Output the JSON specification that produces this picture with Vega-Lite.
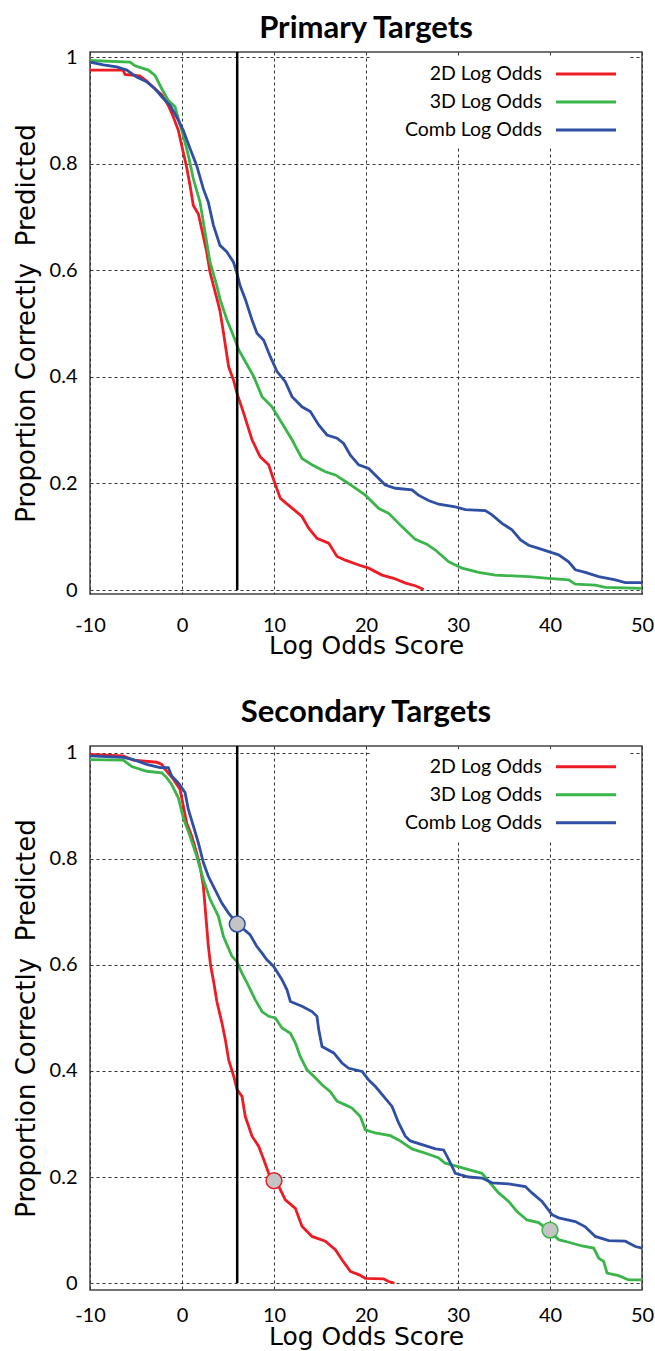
{
  "$schema": "https://vega.github.io/schema/vega-lite/v6.json",
  "background": "white",
  "padding": {"left": 12, "top": 12, "right": 0, "bottom": 0},
  "spacing": 36,
  "datasets": {
    "curves": [
      {"panel":1,"series":"2D Log Odds","score":-10,"proportion":0.976},{"panel":1,"series":"2D Log Odds","score":-6.4,"proportion":0.976},{"panel":1,"series":"2D Log Odds","score":-6.2,"proportion":0.968},{"panel":1,"series":"2D Log Odds","score":-4.6,"proportion":0.965},{"panel":1,"series":"2D Log Odds","score":-3.8,"proportion":0.955},{"panel":1,"series":"2D Log Odds","score":-2.9,"proportion":0.94},{"panel":1,"series":"2D Log Odds","score":-2.2,"proportion":0.93},{"panel":1,"series":"2D Log Odds","score":-1.5,"proportion":0.91},{"panel":1,"series":"2D Log Odds","score":-0.94,"proportion":0.888},{"panel":1,"series":"2D Log Odds","score":-0.4,"proportion":0.863},{"panel":1,"series":"2D Log Odds","score":0,"proportion":0.832},{"panel":1,"series":"2D Log Odds","score":0.5,"proportion":0.794},{"panel":1,"series":"2D Log Odds","score":0.87,"proportion":0.76},{"panel":1,"series":"2D Log Odds","score":1.23,"proportion":0.722},{"panel":1,"series":"2D Log Odds","score":1.78,"proportion":0.706},{"panel":1,"series":"2D Log Odds","score":2.14,"proportion":0.678},{"panel":1,"series":"2D Log Odds","score":2.68,"proportion":0.635},{"panel":1,"series":"2D Log Odds","score":3.04,"proportion":0.597},{"panel":1,"series":"2D Log Odds","score":3.59,"proportion":0.56},{"panel":1,"series":"2D Log Odds","score":3.9,"proportion":0.54},{"panel":1,"series":"2D Log Odds","score":4.15,"proportion":0.522},{"panel":1,"series":"2D Log Odds","score":4.5,"proportion":0.484},{"panel":1,"series":"2D Log Odds","score":5.07,"proportion":0.419},{"panel":1,"series":"2D Log Odds","score":5.6,"proportion":0.394},{"panel":1,"series":"2D Log Odds","score":5.98,"proportion":0.369},{"panel":1,"series":"2D Log Odds","score":6.7,"proportion":0.332},{"panel":1,"series":"2D Log Odds","score":7.61,"proportion":0.282},{"panel":1,"series":"2D Log Odds","score":8.5,"proportion":0.25},{"panel":1,"series":"2D Log Odds","score":9.42,"proportion":0.235},{"panel":1,"series":"2D Log Odds","score":9.96,"proportion":0.207},{"panel":1,"series":"2D Log Odds","score":10.69,"proportion":0.172},{"panel":1,"series":"2D Log Odds","score":11.8,"proportion":0.156},{"panel":1,"series":"2D Log Odds","score":13.04,"proportion":0.138},{"panel":1,"series":"2D Log Odds","score":13.77,"proportion":0.116},{"panel":1,"series":"2D Log Odds","score":14.67,"proportion":0.097},{"panel":1,"series":"2D Log Odds","score":15.94,"proportion":0.088},{"panel":1,"series":"2D Log Odds","score":16.85,"proportion":0.063},{"panel":1,"series":"2D Log Odds","score":17.75,"proportion":0.056},{"panel":1,"series":"2D Log Odds","score":19.2,"proportion":0.047},{"panel":1,"series":"2D Log Odds","score":20.29,"proportion":0.041},{"panel":1,"series":"2D Log Odds","score":21.74,"proportion":0.028},{"panel":1,"series":"2D Log Odds","score":23.0,"proportion":0.022},{"panel":1,"series":"2D Log Odds","score":24.3,"proportion":0.013},{"panel":1,"series":"2D Log Odds","score":25.36,"proportion":0.008},{"panel":1,"series":"2D Log Odds","score":26.27,"proportion":0.001},
      {"panel":1,"series":"3D Log Odds","score":-10,"proportion":0.994},{"panel":1,"series":"3D Log Odds","score":-5.65,"proportion":0.991},{"panel":1,"series":"3D Log Odds","score":-5.1,"proportion":0.984},{"panel":1,"series":"3D Log Odds","score":-3.66,"proportion":0.976},{"panel":1,"series":"3D Log Odds","score":-2.93,"proportion":0.966},{"panel":1,"series":"3D Log Odds","score":-2.2,"proportion":0.941},{"panel":1,"series":"3D Log Odds","score":-1.49,"proportion":0.919},{"panel":1,"series":"3D Log Odds","score":-0.76,"proportion":0.907},{"panel":1,"series":"3D Log Odds","score":-0.4,"proportion":0.885},{"panel":1,"series":"3D Log Odds","score":0.14,"proportion":0.853},{"panel":1,"series":"3D Log Odds","score":0.69,"proportion":0.816},{"panel":1,"series":"3D Log Odds","score":1.23,"proportion":0.772},{"panel":1,"series":"3D Log Odds","score":1.96,"proportion":0.728},{"panel":1,"series":"3D Log Odds","score":2.5,"proportion":0.672},{"panel":1,"series":"3D Log Odds","score":3.04,"proportion":0.616},{"panel":1,"series":"3D Log Odds","score":3.77,"proportion":0.572},{"panel":1,"series":"3D Log Odds","score":4.15,"proportion":0.545},{"panel":1,"series":"3D Log Odds","score":4.89,"proportion":0.507},{"panel":1,"series":"3D Log Odds","score":5.62,"proportion":0.476},{"panel":1,"series":"3D Log Odds","score":6.16,"proportion":0.451},{"panel":1,"series":"3D Log Odds","score":6.88,"proportion":0.429},{"panel":1,"series":"3D Log Odds","score":7.79,"proportion":0.401},{"panel":1,"series":"3D Log Odds","score":8.7,"proportion":0.363},{"panel":1,"series":"3D Log Odds","score":9.78,"proportion":0.344},{"panel":1,"series":"3D Log Odds","score":10.87,"proportion":0.313},{"panel":1,"series":"3D Log Odds","score":11.96,"proportion":0.282},{"panel":1,"series":"3D Log Odds","score":13.04,"proportion":0.247},{"panel":1,"series":"3D Log Odds","score":14.13,"proportion":0.235},{"panel":1,"series":"3D Log Odds","score":15.58,"proportion":0.222},{"panel":1,"series":"3D Log Odds","score":16.67,"proportion":0.216},{"panel":1,"series":"3D Log Odds","score":18.1,"proportion":0.2},{"panel":1,"series":"3D Log Odds","score":19.93,"proportion":0.178},{"panel":1,"series":"3D Log Odds","score":21.4,"proportion":0.153},{"panel":1,"series":"3D Log Odds","score":22.46,"proportion":0.144},{"panel":1,"series":"3D Log Odds","score":23.9,"proportion":0.119},{"panel":1,"series":"3D Log Odds","score":25.36,"proportion":0.095},{"panel":1,"series":"3D Log Odds","score":26.6,"proportion":0.086},{"panel":1,"series":"3D Log Odds","score":27.54,"proportion":0.075},{"panel":1,"series":"3D Log Odds","score":29.0,"proportion":0.053},{"panel":1,"series":"3D Log Odds","score":30.44,"proportion":0.041},{"panel":1,"series":"3D Log Odds","score":32.25,"proportion":0.033},{"panel":1,"series":"3D Log Odds","score":34.06,"proportion":0.028},{"panel":1,"series":"3D Log Odds","score":37.68,"proportion":0.025},{"panel":1,"series":"3D Log Odds","score":39.85,"proportion":0.022},{"panel":1,"series":"3D Log Odds","score":42.03,"proportion":0.019},{"panel":1,"series":"3D Log Odds","score":42.75,"proportion":0.011},{"panel":1,"series":"3D Log Odds","score":44.93,"proportion":0.009},{"panel":1,"series":"3D Log Odds","score":46.0,"proportion":0.005},{"panel":1,"series":"3D Log Odds","score":50,"proportion":0.003},
      {"panel":1,"series":"Comb Log Odds","score":-10,"proportion":0.991},{"panel":1,"series":"Comb Log Odds","score":-8.55,"proportion":0.986},{"panel":1,"series":"Comb Log Odds","score":-7.1,"proportion":0.982},{"panel":1,"series":"Comb Log Odds","score":-6.0,"proportion":0.976},{"panel":1,"series":"Comb Log Odds","score":-4.93,"proportion":0.963},{"panel":1,"series":"Comb Log Odds","score":-3.84,"proportion":0.954},{"panel":1,"series":"Comb Log Odds","score":-2.93,"proportion":0.941},{"panel":1,"series":"Comb Log Odds","score":-2.2,"proportion":0.926},{"panel":1,"series":"Comb Log Odds","score":-1.3,"proportion":0.91},{"panel":1,"series":"Comb Log Odds","score":-0.58,"proportion":0.888},{"panel":1,"series":"Comb Log Odds","score":0.14,"proportion":0.863},{"panel":1,"series":"Comb Log Odds","score":0.87,"proportion":0.829},{"panel":1,"series":"Comb Log Odds","score":1.59,"proportion":0.797},{"panel":1,"series":"Comb Log Odds","score":2.32,"proportion":0.753},{"panel":1,"series":"Comb Log Odds","score":2.86,"proportion":0.728},{"panel":1,"series":"Comb Log Odds","score":3.41,"proportion":0.685},{"panel":1,"series":"Comb Log Odds","score":4.13,"proportion":0.647},{"panel":1,"series":"Comb Log Odds","score":4.86,"proportion":0.635},{"panel":1,"series":"Comb Log Odds","score":5.58,"proportion":0.616},{"panel":1,"series":"Comb Log Odds","score":5.94,"proportion":0.597},{"panel":1,"series":"Comb Log Odds","score":6.3,"proportion":0.572},{"panel":1,"series":"Comb Log Odds","score":6.9,"proportion":0.545},{"panel":1,"series":"Comb Log Odds","score":7.61,"proportion":0.507},{"panel":1,"series":"Comb Log Odds","score":8.15,"proportion":0.482},{"panel":1,"series":"Comb Log Odds","score":8.88,"proportion":0.469},{"panel":1,"series":"Comb Log Odds","score":9.6,"proportion":0.438},{"panel":1,"series":"Comb Log Odds","score":10.33,"proportion":0.41},{"panel":1,"series":"Comb Log Odds","score":11.23,"proportion":0.391},{"panel":1,"series":"Comb Log Odds","score":11.96,"proportion":0.363},{"panel":1,"series":"Comb Log Odds","score":13.04,"proportion":0.344},{"panel":1,"series":"Comb Log Odds","score":13.95,"proportion":0.335},{"panel":1,"series":"Comb Log Odds","score":14.86,"proportion":0.31},{"panel":1,"series":"Comb Log Odds","score":15.76,"proportion":0.291},{"panel":1,"series":"Comb Log Odds","score":16.85,"proportion":0.285},{"panel":1,"series":"Comb Log Odds","score":17.57,"proportion":0.275},{"panel":1,"series":"Comb Log Odds","score":18.3,"proportion":0.253},{"panel":1,"series":"Comb Log Odds","score":19.2,"proportion":0.235},{"panel":1,"series":"Comb Log Odds","score":20.29,"proportion":0.228},{"panel":1,"series":"Comb Log Odds","score":21.0,"proportion":0.216},{"panel":1,"series":"Comb Log Odds","score":22.1,"proportion":0.197},{"panel":1,"series":"Comb Log Odds","score":23.19,"proportion":0.191},{"panel":1,"series":"Comb Log Odds","score":25.0,"proportion":0.188},{"panel":1,"series":"Comb Log Odds","score":25.7,"proportion":0.178},{"panel":1,"series":"Comb Log Odds","score":26.8,"proportion":0.168},{"panel":1,"series":"Comb Log Odds","score":27.9,"proportion":0.161},{"panel":1,"series":"Comb Log Odds","score":29.7,"proportion":0.156},{"panel":1,"series":"Comb Log Odds","score":30.8,"proportion":0.151},{"panel":1,"series":"Comb Log Odds","score":32.97,"proportion":0.149},{"panel":1,"series":"Comb Log Odds","score":33.7,"proportion":0.141},{"panel":1,"series":"Comb Log Odds","score":34.78,"proportion":0.125},{"panel":1,"series":"Comb Log Odds","score":35.87,"proportion":0.113},{"panel":1,"series":"Comb Log Odds","score":36.8,"proportion":0.094},{"panel":1,"series":"Comb Log Odds","score":37.68,"proportion":0.084},{"panel":1,"series":"Comb Log Odds","score":38.77,"proportion":0.078},{"panel":1,"series":"Comb Log Odds","score":39.85,"proportion":0.072},{"panel":1,"series":"Comb Log Odds","score":40.94,"proportion":0.066},{"panel":1,"series":"Comb Log Odds","score":42.03,"proportion":0.053},{"panel":1,"series":"Comb Log Odds","score":42.75,"proportion":0.038},{"panel":1,"series":"Comb Log Odds","score":43.84,"proportion":0.033},{"panel":1,"series":"Comb Log Odds","score":45.29,"proportion":0.025},{"panel":1,"series":"Comb Log Odds","score":47.1,"proportion":0.019},{"panel":1,"series":"Comb Log Odds","score":48.19,"proportion":0.014},{"panel":1,"series":"Comb Log Odds","score":50,"proportion":0.014},
      {"panel":2,"series":"2D Log Odds","score":-10,"proportion":0.997},{"panel":2,"series":"2D Log Odds","score":-6.4,"proportion":0.994},{"panel":2,"series":"2D Log Odds","score":-5.3,"proportion":0.986},{"panel":2,"series":"2D Log Odds","score":-2.75,"proportion":0.982},{"panel":2,"series":"2D Log Odds","score":-2.2,"proportion":0.978},{"panel":2,"series":"2D Log Odds","score":-1.85,"proportion":0.969},{"panel":2,"series":"2D Log Odds","score":-0.94,"proportion":0.95},{"panel":2,"series":"2D Log Odds","score":-0.22,"proportion":0.931},{"panel":2,"series":"2D Log Odds","score":0.14,"proportion":0.9},{"panel":2,"series":"2D Log Odds","score":0.5,"proportion":0.868},{"panel":2,"series":"2D Log Odds","score":1.05,"proportion":0.843},{"panel":2,"series":"2D Log Odds","score":1.59,"proportion":0.811},{"panel":2,"series":"2D Log Odds","score":1.96,"proportion":0.786},{"panel":2,"series":"2D Log Odds","score":2.32,"proportion":0.749},{"panel":2,"series":"2D Log Odds","score":2.5,"proportion":0.711},{"panel":2,"series":"2D Log Odds","score":2.86,"proportion":0.636},{"panel":2,"series":"2D Log Odds","score":3.1,"proportion":0.6},{"panel":2,"series":"2D Log Odds","score":3.44,"proportion":0.568},{"panel":2,"series":"2D Log Odds","score":3.8,"proportion":0.53},{"panel":2,"series":"2D Log Odds","score":4.35,"proportion":0.49},{"panel":2,"series":"2D Log Odds","score":4.71,"proportion":0.459},{"panel":2,"series":"2D Log Odds","score":5.07,"proportion":0.421},{"panel":2,"series":"2D Log Odds","score":5.62,"proportion":0.39},{"panel":2,"series":"2D Log Odds","score":5.98,"proportion":0.365},{"panel":2,"series":"2D Log Odds","score":6.52,"proportion":0.352},{"panel":2,"series":"2D Log Odds","score":6.88,"proportion":0.314},{"panel":2,"series":"2D Log Odds","score":7.61,"proportion":0.277},{"panel":2,"series":"2D Log Odds","score":8.33,"proportion":0.258},{"panel":2,"series":"2D Log Odds","score":8.88,"proportion":0.233},{"panel":2,"series":"2D Log Odds","score":9.42,"proportion":0.207},{"panel":2,"series":"2D Log Odds","score":10.33,"proportion":0.189},{"panel":2,"series":"2D Log Odds","score":11.23,"proportion":0.157},{"panel":2,"series":"2D Log Odds","score":12.32,"proportion":0.141},{"panel":2,"series":"2D Log Odds","score":13.04,"proportion":0.107},{"panel":2,"series":"2D Log Odds","score":14.13,"proportion":0.088},{"panel":2,"series":"2D Log Odds","score":15.58,"proportion":0.079},{"panel":2,"series":"2D Log Odds","score":16.67,"proportion":0.063},{"panel":2,"series":"2D Log Odds","score":17.39,"proportion":0.044},{"panel":2,"series":"2D Log Odds","score":18.3,"proportion":0.022},{"panel":2,"series":"2D Log Odds","score":19.2,"proportion":0.016},{"panel":2,"series":"2D Log Odds","score":19.93,"proportion":0.009},{"panel":2,"series":"2D Log Odds","score":21.9,"proportion":0.008},{"panel":2,"series":"2D Log Odds","score":22.46,"proportion":0.003},{"panel":2,"series":"2D Log Odds","score":23.1,"proportion":0.0},
      {"panel":2,"series":"3D Log Odds","score":-10,"proportion":0.987},{"panel":2,"series":"3D Log Odds","score":-6.38,"proportion":0.986},{"panel":2,"series":"3D Log Odds","score":-5.47,"proportion":0.974},{"panel":2,"series":"3D Log Odds","score":-3.84,"proportion":0.965},{"panel":2,"series":"3D Log Odds","score":-2.2,"proportion":0.962},{"panel":2,"series":"3D Log Odds","score":-1.67,"proportion":0.953},{"panel":2,"series":"3D Log Odds","score":-1.12,"proportion":0.94},{"panel":2,"series":"3D Log Odds","score":-0.4,"proportion":0.915},{"panel":2,"series":"3D Log Odds","score":0.14,"proportion":0.877},{"panel":2,"series":"3D Log Odds","score":0.87,"proportion":0.843},{"panel":2,"series":"3D Log Odds","score":1.59,"proportion":0.805},{"panel":2,"series":"3D Log Odds","score":2.32,"proportion":0.761},{"panel":2,"series":"3D Log Odds","score":3.04,"proportion":0.724},{"panel":2,"series":"3D Log Odds","score":3.95,"proportion":0.692},{"panel":2,"series":"3D Log Odds","score":4.5,"proportion":0.654},{"panel":2,"series":"3D Log Odds","score":5.4,"proportion":0.617},{"panel":2,"series":"3D Log Odds","score":6.0,"proportion":0.605},{"panel":2,"series":"3D Log Odds","score":6.5,"proportion":0.585},{"panel":2,"series":"3D Log Odds","score":7.07,"proportion":0.566},{"panel":2,"series":"3D Log Odds","score":7.97,"proportion":0.534},{"panel":2,"series":"3D Log Odds","score":8.7,"proportion":0.512},{"panel":2,"series":"3D Log Odds","score":9.42,"proportion":0.503},{"panel":2,"series":"3D Log Odds","score":10.14,"proportion":0.5},{"panel":2,"series":"3D Log Odds","score":10.87,"proportion":0.481},{"panel":2,"series":"3D Log Odds","score":11.78,"proportion":0.471},{"panel":2,"series":"3D Log Odds","score":12.32,"proportion":0.453},{"panel":2,"series":"3D Log Odds","score":12.86,"proportion":0.427},{"panel":2,"series":"3D Log Odds","score":13.59,"proportion":0.402},{"panel":2,"series":"3D Log Odds","score":14.49,"proportion":0.387},{"panel":2,"series":"3D Log Odds","score":15.22,"proportion":0.374},{"panel":2,"series":"3D Log Odds","score":16.12,"proportion":0.361},{"panel":2,"series":"3D Log Odds","score":16.85,"proportion":0.343},{"panel":2,"series":"3D Log Odds","score":17.75,"proportion":0.336},{"panel":2,"series":"3D Log Odds","score":18.48,"proportion":0.33},{"panel":2,"series":"3D Log Odds","score":19.38,"proportion":0.314},{"panel":2,"series":"3D Log Odds","score":19.93,"proportion":0.289},{"panel":2,"series":"3D Log Odds","score":21.0,"proportion":0.283},{"panel":2,"series":"3D Log Odds","score":22.64,"proportion":0.278},{"panel":2,"series":"3D Log Odds","score":23.55,"proportion":0.27},{"panel":2,"series":"3D Log Odds","score":25.0,"proportion":0.253},{"panel":2,"series":"3D Log Odds","score":26.81,"proportion":0.243},{"panel":2,"series":"3D Log Odds","score":27.9,"proportion":0.236},{"panel":2,"series":"3D Log Odds","score":28.6,"proportion":0.226},{"panel":2,"series":"3D Log Odds","score":29.71,"proportion":0.221},{"panel":2,"series":"3D Log Odds","score":31.16,"proportion":0.214},{"panel":2,"series":"3D Log Odds","score":32.61,"proportion":0.207},{"panel":2,"series":"3D Log Odds","score":33.33,"proportion":0.192},{"panel":2,"series":"3D Log Odds","score":34.42,"proportion":0.17},{"panel":2,"series":"3D Log Odds","score":35.51,"proportion":0.154},{"panel":2,"series":"3D Log Odds","score":36.41,"proportion":0.135},{"panel":2,"series":"3D Log Odds","score":37.5,"proportion":0.119},{"panel":2,"series":"3D Log Odds","score":38.77,"proportion":0.114},{"panel":2,"series":"3D Log Odds","score":39.86,"proportion":0.099},{"panel":2,"series":"3D Log Odds","score":40.94,"proportion":0.082},{"panel":2,"series":"3D Log Odds","score":42.03,"proportion":0.077},{"panel":2,"series":"3D Log Odds","score":43.48,"proportion":0.07},{"panel":2,"series":"3D Log Odds","score":44.75,"proportion":0.066},{"panel":2,"series":"3D Log Odds","score":45.3,"proportion":0.047},{"panel":2,"series":"3D Log Odds","score":45.83,"proportion":0.041},{"panel":2,"series":"3D Log Odds","score":46.2,"proportion":0.019},{"panel":2,"series":"3D Log Odds","score":47.46,"proportion":0.014},{"panel":2,"series":"3D Log Odds","score":48.55,"proportion":0.006},{"panel":2,"series":"3D Log Odds","score":50,"proportion":0.006},
      {"panel":2,"series":"Comb Log Odds","score":-10,"proportion":0.994},{"panel":2,"series":"Comb Log Odds","score":-6.38,"proportion":0.991},{"panel":2,"series":"Comb Log Odds","score":-5.29,"proportion":0.987},{"panel":2,"series":"Comb Log Odds","score":-3.84,"proportion":0.978},{"panel":2,"series":"Comb Log Odds","score":-2.39,"proportion":0.972},{"panel":2,"series":"Comb Log Odds","score":-1.49,"proportion":0.972},{"panel":2,"series":"Comb Log Odds","score":-1.12,"proportion":0.956},{"panel":2,"series":"Comb Log Odds","score":-0.4,"proportion":0.943},{"panel":2,"series":"Comb Log Odds","score":0.33,"proportion":0.925},{"panel":2,"series":"Comb Log Odds","score":0.69,"proportion":0.893},{"panel":2,"series":"Comb Log Odds","score":1.23,"proportion":0.862},{"panel":2,"series":"Comb Log Odds","score":1.78,"proportion":0.83},{"panel":2,"series":"Comb Log Odds","score":2.32,"proportion":0.793},{"panel":2,"series":"Comb Log Odds","score":2.86,"proportion":0.767},{"panel":2,"series":"Comb Log Odds","score":3.59,"proportion":0.742},{"panel":2,"series":"Comb Log Odds","score":4.31,"proportion":0.717},{"panel":2,"series":"Comb Log Odds","score":5.04,"proportion":0.698},{"panel":2,"series":"Comb Log Odds","score":5.94,"proportion":0.679},{"panel":2,"series":"Comb Log Odds","score":7.39,"proportion":0.657},{"panel":2,"series":"Comb Log Odds","score":8.12,"proportion":0.635},{"panel":2,"series":"Comb Log Odds","score":8.7,"proportion":0.622},{"panel":2,"series":"Comb Log Odds","score":9.2,"proportion":0.61},{"panel":2,"series":"Comb Log Odds","score":9.96,"proportion":0.597},{"panel":2,"series":"Comb Log Odds","score":10.87,"proportion":0.572},{"panel":2,"series":"Comb Log Odds","score":11.41,"proportion":0.553},{"panel":2,"series":"Comb Log Odds","score":11.78,"proportion":0.531},{"panel":2,"series":"Comb Log Odds","score":13.04,"proportion":0.522},{"panel":2,"series":"Comb Log Odds","score":14.13,"proportion":0.512},{"panel":2,"series":"Comb Log Odds","score":14.67,"proportion":0.503},{"panel":2,"series":"Comb Log Odds","score":14.86,"proportion":0.478},{"panel":2,"series":"Comb Log Odds","score":15.22,"proportion":0.446},{"panel":2,"series":"Comb Log Odds","score":16.49,"proportion":0.434},{"panel":2,"series":"Comb Log Odds","score":17.39,"proportion":0.415},{"panel":2,"series":"Comb Log Odds","score":18.12,"proportion":0.405},{"panel":2,"series":"Comb Log Odds","score":19.57,"proportion":0.399},{"panel":2,"series":"Comb Log Odds","score":20.29,"proportion":0.383},{"panel":2,"series":"Comb Log Odds","score":21.0,"proportion":0.371},{"panel":2,"series":"Comb Log Odds","score":21.92,"proportion":0.352},{"panel":2,"series":"Comb Log Odds","score":22.83,"proportion":0.333},{"panel":2,"series":"Comb Log Odds","score":23.55,"proportion":0.302},{"panel":2,"series":"Comb Log Odds","score":24.27,"proportion":0.277},{"panel":2,"series":"Comb Log Odds","score":24.82,"proportion":0.268},{"panel":2,"series":"Comb Log Odds","score":26.09,"proportion":0.261},{"panel":2,"series":"Comb Log Odds","score":27.54,"proportion":0.253},{"panel":2,"series":"Comb Log Odds","score":28.44,"proportion":0.251},{"panel":2,"series":"Comb Log Odds","score":28.99,"proportion":0.233},{"panel":2,"series":"Comb Log Odds","score":29.71,"proportion":0.207},{"panel":2,"series":"Comb Log Odds","score":31.16,"proportion":0.2},{"panel":2,"series":"Comb Log Odds","score":32.61,"proportion":0.198},{"panel":2,"series":"Comb Log Odds","score":33.7,"proportion":0.189},{"panel":2,"series":"Comb Log Odds","score":35.5,"proportion":0.187},{"panel":2,"series":"Comb Log Odds","score":37.32,"proportion":0.182},{"panel":2,"series":"Comb Log Odds","score":38.04,"proportion":0.17},{"panel":2,"series":"Comb Log Odds","score":39.13,"proportion":0.154},{"panel":2,"series":"Comb Log Odds","score":40.22,"proportion":0.129},{"panel":2,"series":"Comb Log Odds","score":40.94,"proportion":0.123},{"panel":2,"series":"Comb Log Odds","score":42.75,"proportion":0.116},{"panel":2,"series":"Comb Log Odds","score":43.84,"proportion":0.106},{"panel":2,"series":"Comb Log Odds","score":44.93,"proportion":0.088},{"panel":2,"series":"Comb Log Odds","score":46.38,"proportion":0.08},{"panel":2,"series":"Comb Log Odds","score":48.19,"proportion":0.079},{"panel":2,"series":"Comb Log Odds","score":49.28,"proportion":0.069},{"panel":2,"series":"Comb Log Odds","score":50,"proportion":0.066}
    ],
    "cutoff": [
      {"panel":1,"score":6,"low":0,"high":1.01},
      {"panel":2,"score":6,"low":0,"high":1.0126}
    ],
    "markers": [
      {"panel":2,"series":"Comb Log Odds","score":6,"proportion":0.677},
      {"panel":2,"series":"2D Log Odds","score":10,"proportion":0.193},
      {"panel":2,"series":"3D Log Odds","score":40,"proportion":0.1}
    ]
  },
  "config": {
    "view": {"stroke": "#444444", "strokeWidth": 1.5},
    "axis": {
      "grid": true, "gridDash": [3, 3], "gridColor": "#333333", "gridWidth": 1, "gridOpacity": 1,
      "domain": false, "ticks": false, "tickSize": 0,
      "labelFont": "Lato", "labelFontSize": 20, "labelColor": "#000000",
      "titleFont": "DejaVu Sans", "titleFontSize": 25, "titleFontWeight": "normal", "titleColor": "#000000"
    },
    "legend": {
      "orient": "none", "title": null, "padding": 8, "rowPadding": 7,
      "symbolType": "M-4,0H4", "symbolSize": 225, "symbolStrokeWidth": 3, "symbolOffset": 198.25,
      "labelAlign": "right", "labelOffset": -53.75,
      "labelFont": "Lato", "labelFontSize": 19.5, "labelColor": "#000000",
      "fillColor": "#FFFFFF"
    },
    "title": {"font": "Lato", "fontSize": 31, "fontWeight": "bold", "color": "#000000", "anchor": "middle"}
  },
  "resolve": {"scale": {"color": "independent", "y": "independent"}, "legend": {"color": "independent"}},
  "vconcat": [
    {
      "width": 552, "height": 542,
      "title": {"text": "Primary Targets", "offset": 2},
      "layer": [
        {
          "data": {"name": "curves"},
          "transform": [{"filter": "datum.panel === 1"}],
          "mark": {"type": "line", "strokeWidth": 2.8, "interpolate": "linear"},
          "encoding": {
            "x": {"field": "score", "type": "quantitative", "scale": {"domain": [-10, 50], "nice": false, "zero": false},
                  "axis": {"title": "Log Odds Score", "values": [-10, 0, 10, 20, 30, 40, 50], "labelExpr": "'' + datum.value", "labelPadding": 21, "titlePadding": -2, "labelFlush": false}},
            "y": {"field": "proportion", "type": "quantitative", "scale": {"domain": [-0.0075, 1.01], "nice": false, "zero": false},
                  "axis": {"title": "Proportion Correctly \u00a0Predicted", "titleFontSize": 26, "values": [0, 0.2, 0.4, 0.6, 0.8, 1], "labelExpr": "'' + datum.value", "labelPadding": 13, "titlePadding": 10}},
            "color": {"field": "series", "type": "nominal",
                      "scale": {"domain": ["2D Log Odds", "3D Log Odds", "Comb Log Odds"], "range": ["#ED1C24", "#39B54A", "#2E4FA3"]},
                      "legend": {"legendX": 280, "legendY": 4.25}}
          }
        },
        {
          "data": {"name": "cutoff"},
          "transform": [{"filter": "datum.panel === 1"}],
          "mark": {"type": "rule", "color": "#000000", "strokeWidth": 2.5},
          "encoding": {
            "x": {"field": "score", "type": "quantitative"},
            "y": {"field": "low", "type": "quantitative"},
            "y2": {"field": "high"}
          }
        }
      ]
    },
    {
      "width": 552, "height": 544,
      "title": {"text": "Secondary Targets", "offset": 14},
      "layer": [
        {
          "data": {"name": "curves"},
          "transform": [{"filter": "datum.panel === 2"}],
          "mark": {"type": "line", "strokeWidth": 2.8, "interpolate": "linear"},
          "encoding": {
            "x": {"field": "score", "type": "quantitative", "scale": {"domain": [-10, 50], "nice": false, "zero": false},
                  "axis": {"title": "Log Odds Score", "values": [-10, 0, 10, 20, 30, 40, 50], "labelExpr": "'' + datum.value", "labelPadding": 15, "titlePadding": -1, "labelFlush": false}},
            "y": {"field": "proportion", "type": "quantitative", "scale": {"domain": [-0.013, 1.0126], "nice": false, "zero": false},
                  "axis": {"title": "Proportion Correctly \u00a0Predicted", "titleFontSize": 26, "values": [0, 0.2, 0.4, 0.6, 0.8, 1], "labelExpr": "'' + datum.value", "labelPadding": 13, "titlePadding": 10}},
            "color": {"field": "series", "type": "nominal",
                      "scale": {"domain": ["2D Log Odds", "3D Log Odds", "Comb Log Odds"], "range": ["#ED1C24", "#39B54A", "#2E4FA3"]},
                      "legend": {"legendX": 280, "legendY": 3}}
          }
        },
        {
          "data": {"name": "cutoff"},
          "transform": [{"filter": "datum.panel === 2"}],
          "mark": {"type": "rule", "color": "#000000", "strokeWidth": 2.5},
          "encoding": {
            "x": {"field": "score", "type": "quantitative"},
            "y": {"field": "low", "type": "quantitative"},
            "y2": {"field": "high"}
          }
        },
        {
          "data": {"name": "markers"},
          "transform": [{"filter": "datum.panel === 2"}],
          "mark": {"type": "point", "filled": true, "fill": "#C4C4C4", "size": 250, "strokeWidth": 1.5, "opacity": 1},
          "encoding": {
            "x": {"field": "score", "type": "quantitative"},
            "y": {"field": "proportion", "type": "quantitative"},
            "stroke": {"field": "series", "type": "nominal",
                       "scale": {"domain": ["2D Log Odds", "3D Log Odds", "Comb Log Odds"], "range": ["#ED1C24", "#39B54A", "#2E4FA3"]},
                       "legend": null}
          }
        }
      ]
    }
  ]
}
